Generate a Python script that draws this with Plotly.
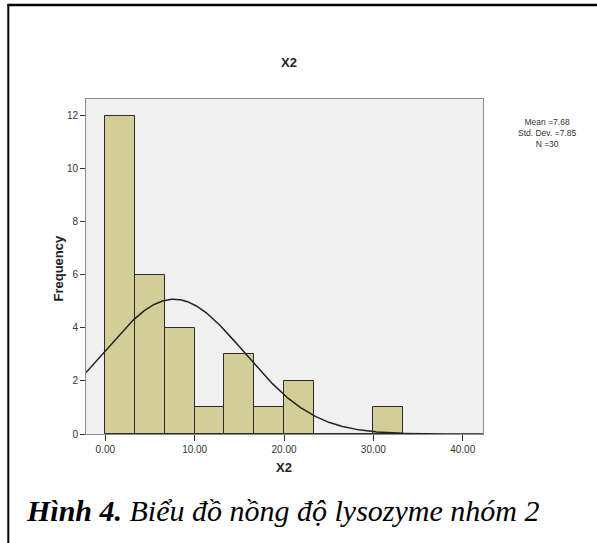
import numpy as np
import plotly.graph_objects as go

# ---- data ----
bin_start = 0.0
bin_width = 10.0 / 3.0
bin_counts = [12, 6, 4, 1, 3, 1, 2, 0, 0, 1]
mean_val = 7.68
sd_val = 7.85
n_val = 30
x_ticks = [0, 10, 20, 30, 40]
y_ticks = [0, 2, 4, 6, 8, 10, 12]
x_range = [-2.16, 42.27]
y_range = [0, 12.63]

# ---- layout helpers ----
W, H = 597, 543
L, R, T, B = 86, 114, 99, 109
pw, ph = W - L - R, H - T - B


def px(x):
    return (x - L) / pw


def py(y):
    return (H - B - y) / ph


centers = [bin_start + bin_width * (i + 0.5) for i in range(len(bin_counts))]

xs = np.linspace(x_range[0], x_range[1], 400)
ys = n_val * bin_width / (sd_val * np.sqrt(2 * np.pi)) * np.exp(-0.5 * ((xs - mean_val) / sd_val) ** 2)

fig = go.Figure()
fig.add_trace(go.Bar(
    x=centers, y=bin_counts, width=bin_width,
    marker=dict(color="#d3ce97", line=dict(color="#2b2b2b", width=1)),
    hoverinfo="skip",
))
fig.add_trace(go.Scatter(
    x=xs, y=ys, mode="lines", line=dict(color="#222222", width=1.5),
    hoverinfo="skip",
))

axis_font = dict(family="Liberation Sans, Arial", size=10, color="#333333")
fig.update_xaxes(
    range=x_range, tickvals=x_ticks, tickformat=".2f",
    ticks="outside", ticklen=6, tickcolor="#333333", tickwidth=1,
    showline=True, mirror=True, linecolor="#8c8c8c", linewidth=1,
    showgrid=False, zeroline=False, tickfont=axis_font,
)
fig.update_yaxes(
    range=y_range, tickvals=y_ticks,
    ticks="outside", ticklen=5, tickcolor="#333333", tickwidth=1,
    showline=True, mirror=True, linecolor="#8c8c8c", linewidth=1,
    showgrid=False, zeroline=False, tickfont=axis_font,
)


def note(text, x, y, size, family="Liberation Sans, Arial", color="#222222", **kw):
    d = dict(text=text, x=px(x), y=py(y), xref="paper", yref="paper",
             xanchor=kw.pop("xanchor", "center"), yanchor="middle",
             showarrow=False, font=dict(family=family, size=size, color=color))
    d.update(kw)
    return d


stats = ["Mean =%.2f" % mean_val, "Std. Dev. =%.2f" % sd_val, "N =%d" % n_val]
ann = [
    note("<b>X2</b>", 289, 62, 13),
    note("<b>X2</b>", 284, 467, 13),
    note("<b>Frequency</b>", 57.5, 268, 13, textangle=-90),
    note("<br>".join(stats), 547, 133, 8.5, color="#333333", align="center"),
    note("<b><i>Hình 4.</i></b><i> Biểu đồ nồng độ lysozyme nhóm 2</i>", 24, 510, 30,
         family="Liberation Serif, Times New Roman", color="#000000", xanchor="left"),
]

shapes = [
    dict(type="line", xref="paper", yref="paper", x0=px(7.5), x1=px(597), y0=py(5), y1=py(5),
         line=dict(color="#000000", width=2.5)),
    dict(type="line", xref="paper", yref="paper", x0=px(8.3), x1=px(8.3), y0=py(4), y1=py(543),
         line=dict(color="#000000", width=2)),
]

fig.update_layout(
    width=W, height=H,
    margin=dict(l=L, r=R, t=T, b=B, pad=0),
    paper_bgcolor="#ffffff", plot_bgcolor="#f0f0f0",
    showlegend=False, bargap=0,
    annotations=ann, shapes=shapes,
)

fig.write_html("out.html")
